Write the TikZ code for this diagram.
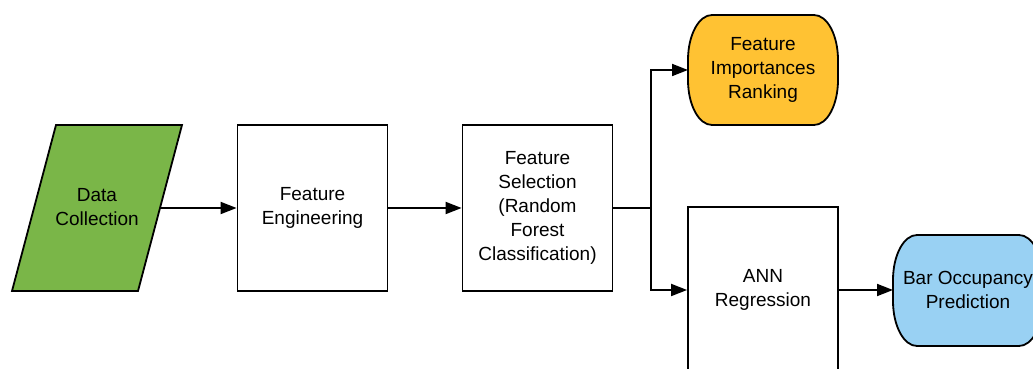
\documentclass[tikz,border=0pt]{standalone}
\usepackage{fontspec}
\setmainfont{Liberation Sans}
\usetikzlibrary{arrows.meta}
\definecolor{dcgreen}{HTML}{7AB648}
\definecolor{fiyellow}{HTML}{FFC233}
\definecolor{bpblue}{HTML}{99D1F3}
\tikzset{
  line/.style={line width=1.8pt, draw=black},
  conn/.style={line width=1.8pt, -{Triangle[length=16pt,width=12pt]}},
  procbox/.style={draw=black, line width=1.8pt, fill=white, minimum width=150pt, minimum height=166pt, inner sep=0pt},
  lbl/.style={align=center, font=\fontsize{19}{24}\selectfont, inner sep=0pt},
}
\begin{document}
\begin{tikzpicture}[x=1pt,y=1pt]
\useasboundingbox (0,0) rectangle (1033,369);
\begin{scope}
\clip (0,0) rectangle (1033,369);
% Data collection parallelogram
\draw[line, fill=dcgreen] (56,244) -- (182,244) -- (138,78) -- (12,78) -- cycle;
\node[lbl] (dc) at (97,162) {Data\\Collection};
\coordinate (dcout) at (160,161);
% Feature engineering
\node[procbox] (fe) at (312.5,161) {};
\node[lbl] at (fe.center) {Feature\\Engineering};
% Feature selection
\node[procbox] (fs) at (537.5,161) {};
\node[lbl] at (fs.center) {Feature\\Selection\\(Random\\Forest\\Classification)};
% Feature importances ranking (terminator)
\draw[line, fill=fiyellow] (712,354) -- (814,354)
  arc[start angle=90, end angle=0, x radius=24, y radius=45] -- (838,289)
  arc[start angle=0, end angle=-90, x radius=24, y radius=45] -- (712,244)
  arc[start angle=270, end angle=180, x radius=24, y radius=45] -- (688,309)
  arc[start angle=180, end angle=90, x radius=24, y radius=45] -- cycle;
\node[lbl] (fi) at (763,299) {Feature\\Importances\\Ranking};
\coordinate (fiin) at (688,299);
% ANN regression
\node[procbox] (ann) at (763,79) {};
\node[lbl] at (ann.center) {ANN\\Regression};
% Bar occupancy prediction (terminator)
\draw[line, fill=bpblue] (917,134) -- (1019,134)
  arc[start angle=90, end angle=0, x radius=24, y radius=45] -- (1043,68)
  arc[start angle=0, end angle=-90, x radius=24, y radius=45] -- (917,23)
  arc[start angle=270, end angle=180, x radius=24, y radius=45] -- (893,89)
  arc[start angle=180, end angle=90, x radius=24, y radius=45] -- cycle;
\node[lbl] (bp) at (968,79) {Bar Occupancy\\Prediction};
\coordinate (bpin) at (893,79);
% connectors
\coordinate (split) at (651,161);
\draw[conn] (dcout) -- (fe.west);
\draw[conn] (fe.east) -- (fs.west);
\draw[line] (fs.east) -- (split);
\draw[conn] (split) |- (fiin);
\draw[conn] (split) |- (ann.west);
\draw[conn] (ann.east) -- (bpin);
\end{scope}
\end{tikzpicture}
\end{document}
